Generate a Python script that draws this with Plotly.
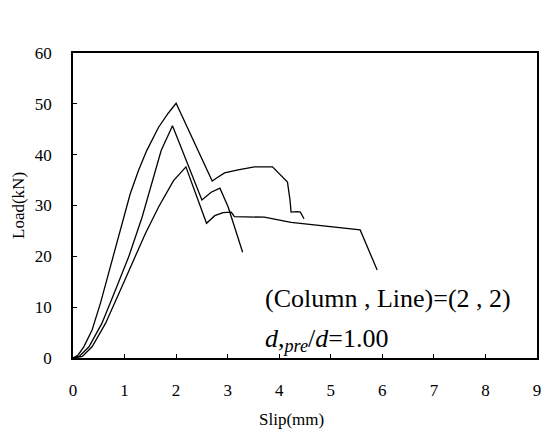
import plotly.graph_objects as go

# Curve A (highest peak)
a_x = [0, 0.1, 0.21, 0.37, 0.53, 0.69, 0.92, 1.11, 1.27, 1.43, 1.66, 1.85, 2.0,
       2.70, 2.80, 2.94, 3.20, 3.52, 3.87, 4.16, 4.21, 4.23, 4.35, 4.41, 4.48]
a_y = [0, 0.6, 2.2, 5.5, 10.7, 16.6, 25.1, 32.3, 36.9, 40.8, 45.4, 48.2, 50.1,
       34.8, 35.5, 36.4, 37.0, 37.6, 37.6, 34.6, 31.0, 28.7, 28.8, 28.7, 27.4]

# Curve B (middle peak)
b_x = [0, 0.12, 0.31, 0.56, 0.82, 1.08, 1.34, 1.53, 1.71, 1.93,
       2.50, 2.68, 2.85, 3.01, 3.29]
b_y = [0, 0.3, 2.2, 6.8, 13.3, 19.9, 27.7, 34.3, 40.8, 45.7,
       31.1, 32.6, 33.4, 29.7, 20.8]

# Curve C (lowest peak)
c_x = [0, 0.18, 0.37, 0.63, 0.89, 1.14, 1.40, 1.66, 1.95, 2.19,
       2.59, 2.75, 2.91, 3.07, 3.13, 3.71, 4.23, 5.57, 5.90]
c_y = [0, 0.3, 2.2, 6.8, 12.7, 18.6, 24.4, 29.7, 34.9, 37.6,
       26.5, 28.0, 28.6, 28.7, 27.8, 27.7, 26.7, 25.2, 17.3]

x_ticks = [0, 1, 2, 3, 4, 5, 6, 7, 8, 9]
y_ticks = [0, 10, 20, 30, 40, 50, 60]

FONT = "Liberation Serif, Times New Roman, Times, serif"
fig = go.Figure()
for xs, ys in [(a_x, a_y), (b_x, b_y), (c_x, c_y)]:
    fig.add_trace(go.Scatter(x=xs, y=ys, mode="lines",
                             line=dict(color="black", width=1.3),
                             showlegend=False, hoverinfo="skip"))

fig.update_layout(
    width=549, height=437,
    margin=dict(l=73, r=8, t=53, b=79),
    paper_bgcolor="white", plot_bgcolor="white",
    font=dict(family=FONT, color="black", size=17),
    xaxis=dict(range=[0, 9], tickvals=x_ticks, ticks="inside", ticklen=4,
               tickcolor="black", showgrid=False, zeroline=False,
               showline=True, linecolor="black", linewidth=1.8, mirror=True,
               ticklabelstandoff=16, tickfont=dict(family=FONT, size=17)),
    yaxis=dict(range=[0, 60], tickvals=y_ticks, ticks="inside", ticklen=4,
               tickcolor="black", showgrid=False, zeroline=False,
               showline=True, linecolor="black", linewidth=1.8, mirror=True,
               ticklabelstandoff=16, tickfont=dict(family=FONT, size=17)),
)

fig.add_annotation(text="Slip(mm)", xref="paper", yref="paper",
                   x=0.47, y=-0.203, showarrow=False,
                   font=dict(family=FONT, size=17), xanchor="center", yanchor="middle")
fig.add_annotation(text="Load(kN)", xref="paper", yref="paper",
                   x=-0.1175, y=0.50, showarrow=False, textangle=-90,
                   font=dict(family=FONT, size=17), xanchor="center", yanchor="middle")
fig.add_annotation(text="(Column , Line)=(2 , 2)", x=3.68, y=11.7, xref="x", yref="y",
                   showarrow=False, xanchor="left", yanchor="middle",
                   font=dict(family=FONT, size=26))
fig.add_annotation(text="<i>d</i>,<sub><i>pre</i></sub>/<i>d</i>=1.00", x=3.68, y=3.5,
                   xref="x", yref="y", showarrow=False, xanchor="left", yanchor="middle",
                   font=dict(family=FONT, size=26))

fig.write_html("out.html")
